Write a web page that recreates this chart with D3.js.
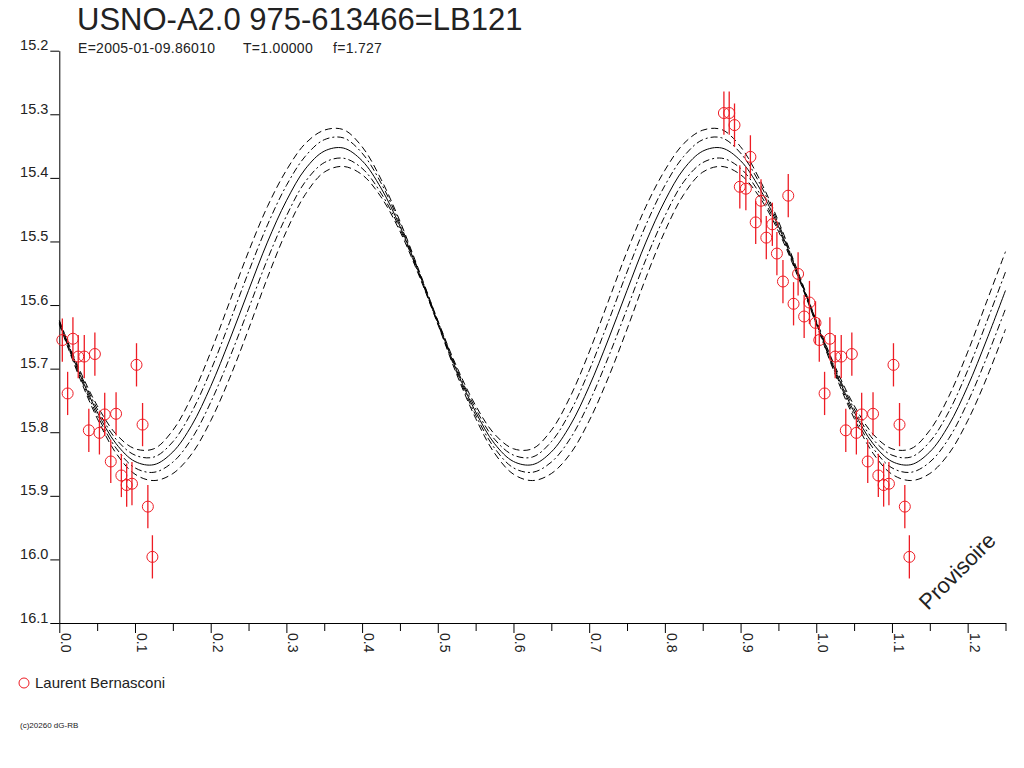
<!DOCTYPE html>
<html>
<head>
<meta charset="utf-8">
<script src="https://cdn.jsdelivr.net/npm/d3@7"></script>
<style>
  body { margin: 0; background: #fff; }
  svg { display: block; font-family: "Liberation Sans", Arial, sans-serif; }
</style>
</head>
<body>
<div id="chart"></div>
<script>
// model curve, every 0.025 in phase
const curvePhase = [0.000,0.025,0.050,0.075,0.100,0.125,0.150,0.175,0.200,0.225,
  0.250,0.275,0.300,0.325,0.350,0.375,0.400,0.425,0.450,0.475,
  0.500,0.525,0.550,0.575,0.600,0.625,0.650,0.675,0.700,0.725,
  0.750,0.775,0.800,0.825,0.850,0.875,0.900,0.925,0.950,0.975,
  1.000,1.025,1.050,1.075,1.100,1.125,1.150,1.175,1.200,1.225,1.250];
const curveMag = [15.627,15.703,15.768,15.818,15.846,15.851,15.831,15.789,15.728,15.655,
  15.577,15.501,15.436,15.386,15.358,15.353,15.373,15.416,15.476,15.549,
  15.627,15.703,15.768,15.818,15.846,15.851,15.831,15.789,15.728,15.655,
  15.577,15.501,15.436,15.386,15.358,15.353,15.373,15.416,15.476,15.549,
  15.627,15.703,15.768,15.818,15.846,15.851,15.831,15.789,15.728,15.655,15.577];
// half widths of the two envelopes (outer dashed, inner dash-dot)
const outerWidth = [0.003,0.006,0.010,0.015,0.020,0.025,0.034,0.045,0.054,0.060,
  0.061,0.056,0.048,0.040,0.033,0.029,0.022,0.014,0.008,0.004,
  0.003,0.006,0.010,0.015,0.020,0.025,0.034,0.045,0.054,0.060,
  0.061,0.056,0.048,0.040,0.033,0.029,0.022,0.014,0.008,0.004,
  0.003,0.006,0.010,0.015,0.020,0.025,0.034,0.045,0.054,0.060,0.061];
const innerWidth = [0.002,0.003,0.005,0.007,0.010,0.012,0.016,0.021,0.025,0.028,
  0.029,0.027,0.024,0.020,0.018,0.016,0.012,0.008,0.004,0.002,
  0.002,0.003,0.005,0.007,0.010,0.012,0.016,0.021,0.025,0.028,
  0.029,0.027,0.024,0.020,0.018,0.016,0.012,0.008,0.004,0.002,
  0.002,0.003,0.005,0.007,0.010,0.012,0.016,0.021,0.025,0.028,0.029];

// observations (Laurent Bernasconi), folded phase, plotted at p and p+1
const obsPhase = [-0.122,-0.115,-0.108,-0.087,-0.101,-0.093,-0.037,-0.073,-0.080,-0.058,
  -0.066,-0.052,-0.024,-0.044,-0.030,-0.009,-0.016,-0.001,
  0.004,0.018,0.025,0.033,0.047,0.011,0.102,0.060,0.075,0.110,
  0.039,0.053,0.068,0.082,0.089,0.096,0.117,0.123];
const obsMag = [15.298,15.298,15.317,15.367,15.414,15.417,15.428,15.436,15.470,15.473,
  15.494,15.519,15.551,15.563,15.598,15.596,15.618,15.628,
  15.655,15.653,15.681,15.681,15.677,15.739,15.694,15.772,15.771,15.788,
  15.797,15.801,15.846,15.868,15.883,15.881,15.917,15.996];
const obsErr = [0.034,0.034,0.034,0.034,0.034,0.034,0.034,0.034,0.034,0.034,
  0.034,0.034,0.034,0.034,0.034,0.034,0.034,0.034,
  0.034,0.034,0.034,0.034,0.034,0.034,0.034,0.034,0.034,0.034,
  0.034,0.034,0.034,0.034,0.034,0.034,0.034,0.034];

const xMajor = [0.0,0.1,0.2,0.3,0.4,0.5,0.6,0.7,0.8,0.9,1.0,1.1,1.2];
const xMinor = [0.05,0.15,0.25,0.35,0.45,0.55,0.65,0.75,0.85,0.95,1.05,1.15,1.25];
const yTicks = [15.2,15.3,15.4,15.5,15.6,15.7,15.8,15.9,16.0,16.1];

const title = "USNO-A2.0 975-613466=LB121";
const subtitle = ["E=2005-01-09.86010", "T=1.00000", "f=1.727"];
const observer = "Laurent Bernasconi";

const width = 1024, height = 768;
const red = "#ee1c24";

const svg = d3.select("#chart").append("svg")
  .attr("width", width).attr("height", height);

const x = d3.scaleLinear().domain([0, 1.25]).range([59.3, 1005.5]);
const y = d3.scaleLinear().domain([15.2, 16.1]).range([50.7, 623]);

// titles
svg.append("text").attr("x", 77).attr("y", 30)
  .style("font-size", "31px").attr("fill", "#222").text(title);
const subX = [78, 243, 333];
svg.selectAll("text.sub").data(subtitle).enter().append("text")
  .attr("class", "sub")
  .attr("x", (d, i) => subX[i]).attr("y", 53)
  .style("font-size", "14px").style("letter-spacing", "0.3px")
  .attr("fill", "#222").text(d => d);

// axes
const xAxisMinor = d3.axisBottom(x).tickValues(xMinor).tickSize(8).tickSizeOuter(0).tickFormat("");
const xAxisMajor = d3.axisBottom(x).tickValues(xMajor).tickSize(10).tickSizeOuter(0).tickFormat(d3.format(".1f"));
svg.append("g").attr("transform", "translate(0,623)").call(xAxisMinor);
const gx = svg.append("g").attr("transform", "translate(0,623)").call(xAxisMajor);
gx.selectAll("text")
  .attr("x", 0).attr("y", 0).attr("dy", null)
  .attr("text-anchor", "start")
  .attr("transform", "translate(1.5,10) rotate(90)")
  .style("font-size", "14px").attr("fill", "#222");

const yAxis = d3.axisLeft(y).tickValues(yTicks).tickSize(9).tickSizeOuter(0).tickFormat(d3.format(".1f"));
const gy = svg.append("g").attr("transform", "translate(59.3,0)").call(yAxis);
gy.selectAll("text")
  .attr("x", -11).attr("y", -1).attr("dy", null)
  .style("font-size", "14.5px").attr("fill", "#222");

svg.selectAll(".domain, .tick line").attr("stroke", "#000").attr("stroke-width", 1);

// model curves
const idx = d3.range(curvePhase.length);
const line = (off, sign) => d3.line()
  .x(i => x(curvePhase[i]))
  .y(i => y(curveMag[i] + sign * (off ? off[i] : 0)))
  .curve(d3.curveCatmullRom);

const curves = [
  {off: outerWidth, sign: -1, dash: "7,4"},
  {off: outerWidth, sign: 1, dash: "7,4"},
  {off: innerWidth, sign: -1, dash: "7,3,2,3"},
  {off: innerWidth, sign: 1, dash: "7,3,2,3"},
  {off: null, sign: 0, dash: null}
];
svg.append("g").selectAll("path").data(curves).enter().append("path")
  .attr("d", c => line(c.off, c.sign)(idx))
  .attr("fill", "none").attr("stroke", "#000").attr("stroke-width", 1)
  .attr("stroke-dasharray", c => c.dash);

// observations
const pts = [];
obsPhase.forEach((p, i) => {
  [p, p + 1].forEach(q => {
    if (q >= 0 && q <= 1.25) pts.push({p: q, m: obsMag[i], e: obsErr[i]});
  });
});
const gp = svg.append("g");
gp.selectAll("line").data(pts).enter().append("line")
  .attr("x1", d => x(d.p)).attr("x2", d => x(d.p))
  .attr("y1", d => y(d.m - d.e)).attr("y2", d => y(d.m + d.e))
  .attr("stroke", red).attr("stroke-width", 1.3);
gp.selectAll("circle").data(pts).enter().append("circle")
  .attr("cx", d => x(d.p)).attr("cy", d => y(d.m)).attr("r", 5.5)
  .attr("fill", "none").attr("stroke", red).attr("stroke-width", 1);

// provisional stamp
svg.append("text").attr("transform", "translate(928,611) rotate(-45)")
  .style("font-size", "22px").attr("fill", "#222").text("Provisoire");

// legend
svg.append("circle").attr("cx", 24).attr("cy", 683).attr("r", 5)
  .attr("fill", "none").attr("stroke", red);
svg.append("text").attr("x", 35).attr("y", 688)
  .style("font-size", "15px").attr("fill", "#222").text(observer);

svg.append("text").attr("x", 20).attr("y", 728)
  .style("font-size", "8px").attr("fill", "#222").text("(c)20260 dG-RB");
</script>
</body>
</html>
